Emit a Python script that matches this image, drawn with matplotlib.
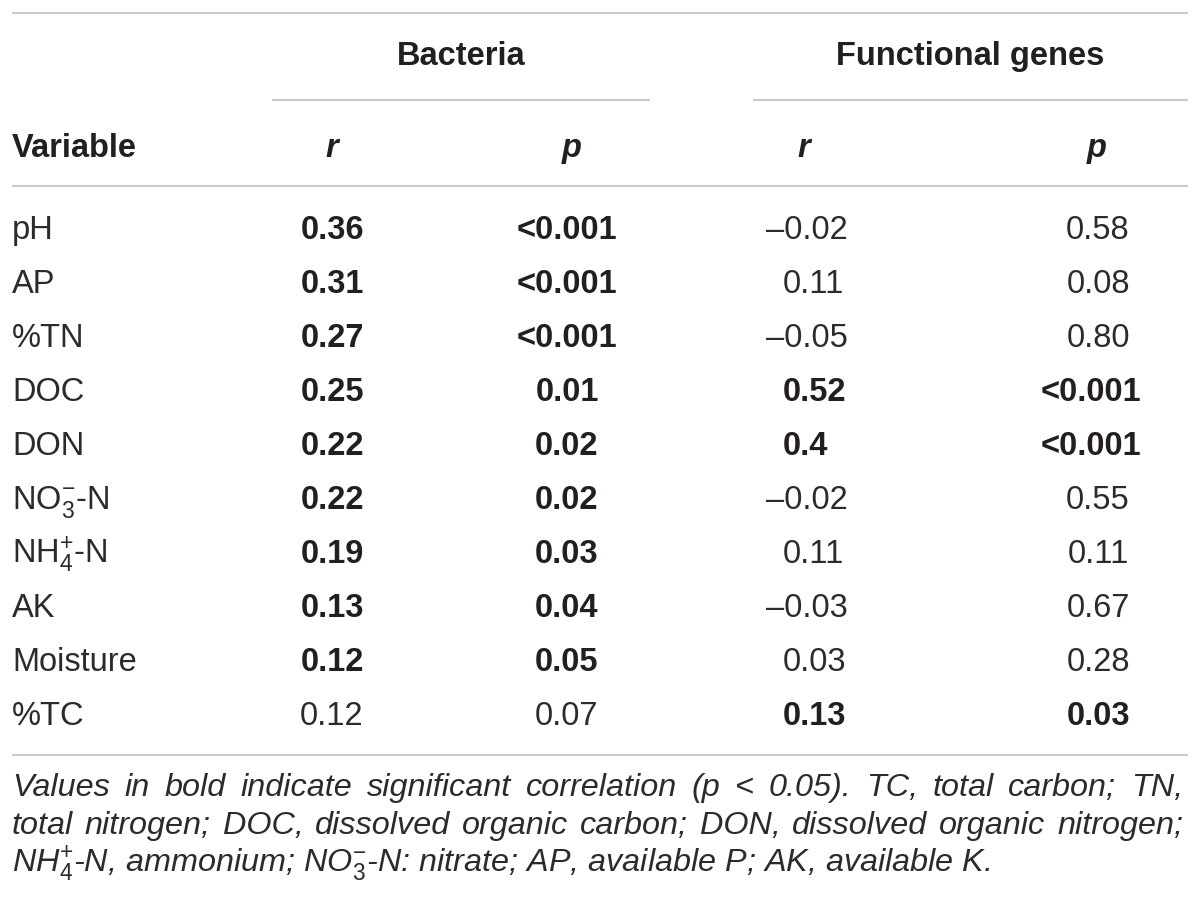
import matplotlib
matplotlib.use("Agg")
import matplotlib.pyplot as plt

# ---------------- data ----------------
variables = ["pH", "AP", "%TN", "DOC", "DON", r"NO$_3^{-}$-N", r"NH$_4^{+}$-N",
             "AK", "Moisture", "%TC"]
bacteria_r = ["0.36", "0.31", "0.27", "0.25", "0.22", "0.22", "0.19", "0.13", "0.12", "0.12"]
bacteria_p = ["<0.001", "<0.001", "<0.001", "0.01", "0.02", "0.02", "0.03", "0.04", "0.05", "0.07"]
genes_r = ["\u20130.02", "0.11", "\u20130.05", "0.52", "0.4", "\u20130.02", "0.11", "\u20130.03", "0.03", "0.13"]
genes_p = ["0.58", "0.08", "0.80", "<0.001", "<0.001", "0.55", "0.11", "0.67", "0.28", "0.03"]
group_headers = ["Bacteria", "Functional genes"]
col_headers = ["Variable", "r", "p", "r", "p"]
footnote_lines = [
    "Values in bold indicate significant correlation (p < 0.05). TC, total carbon; TN,",
    "total nitrogen; DOC, dissolved organic carbon; DON, dissolved organic nitrogen;",
    r"NH$_{\mathit{4}}^{+}$-N, ammonium; NO$_{\mathit{3}}^{-}$-N: nitrate; AP, available P; AK, available K.",
]

# ---------------- style ----------------
FONT = "Liberation Sans"
plt.rcParams["font.family"] = [FONT, "DejaVu Sans"]
plt.rcParams["mathtext.fontset"] = "custom"
plt.rcParams["mathtext.rm"] = FONT
plt.rcParams["mathtext.it"] = FONT + ":italic"
plt.rcParams["mathtext.bf"] = FONT + ":bold"

TXT = "#231f20"
TXT_LIGHT = "#2b2b2b"
LINE = "#c9c9c9"
FS = 23.5
FS_NOTE = 23.3


def pval(s):
    return float(s.replace("<", ""))


fig = plt.figure(figsize=(12, 9.09), dpi=100)
ax = fig.add_axes([0, 0, 1, 1])
ax.set_xlim(0, 1200)
ax.set_ylim(909, 0)
ax.axis("off")

# rules
for (xa, xb), y in [((12, 1188), 13), ((272, 650), 100), ((753, 1188), 100),
                    ((12, 1188), 186), ((12, 1188), 755)]:
    ax.plot([xa, xb], [y, y], color=LINE, lw=1.5, solid_capstyle="butt")

# group headers
for name, xc in zip(group_headers, [461, 970]):
    ax.text(xc, 65, name, ha="center", va="baseline", fontsize=FS,
            fontweight="bold", color=TXT)

# column headers
hx = [12, 332, 572, 804, 1097]
for i, (h, x) in enumerate(zip(col_headers, hx)):
    ax.text(x, 157, h, ha="left" if i == 0 else "center", va="baseline",
            fontsize=FS, fontweight="bold", fontstyle="normal" if i == 0 else "italic",
            color=TXT)

# body rows
y0, dy = 239, 54
for i, v in enumerate(variables):
    yb = y0 + dy * i
    ax.text(12, yb, v, ha="left", va="baseline", fontsize=FS, color=TXT_LIGHT)
    bsig = pval(bacteria_p[i]) <= 0.05
    gsig = pval(genes_p[i]) <= 0.05
    wb = "bold" if bsig else "normal"
    wg = "bold" if gsig else "normal"
    cb = TXT if bsig else TXT_LIGHT
    cg = TXT if gsig else TXT_LIGHT
    ax.text(332, yb, bacteria_r[i], ha="center", va="baseline", fontsize=FS,
            fontweight=wb, color=cb)
    ax.text(567, yb, bacteria_p[i], ha="center", va="baseline", fontsize=FS,
            fontweight=wb, color=cb)
    gr = genes_r[i]
    if gr.startswith("\u2013"):
        ax.text(848, yb, gr, ha="right", va="baseline", fontsize=FS,
                fontweight=wg, color=cg)
    else:
        ax.text(783, yb, gr, ha="left", va="baseline", fontsize=FS,
                fontweight=wg, color=cg)
    gp = genes_p[i]
    ax.text(1091 if gp.startswith("<") else 1098, yb, gp, ha="center",
            va="baseline", fontsize=FS, fontweight=wg, color=cg)

# footnote (justified except last line)
renderer = fig.canvas.get_renderer()
note_y = [796, 834, 872]
X0, X1 = 12, 1183
for k, (line, yb) in enumerate(zip(footnote_lines, note_y)):
    if k == len(footnote_lines) - 1:
        ax.text(X0, yb, line, ha="left", va="baseline", fontsize=FS_NOTE,
                fontstyle="italic", color=TXT_LIGHT)
        continue
    words = line.split(" ")
    texts = [ax.text(0, yb, w, ha="left", va="baseline", fontsize=FS_NOTE,
                     fontstyle="italic", color=TXT_LIGHT) for w in words]
    widths = [t.get_window_extent(renderer).width for t in texts]
    gap = (X1 - X0 - sum(widths)) / (len(words) - 1)
    x = X0
    for t, w in zip(texts, widths):
        t.set_x(x)
        x += w + gap

fig.savefig("out.png", dpi=100, facecolor="white")
